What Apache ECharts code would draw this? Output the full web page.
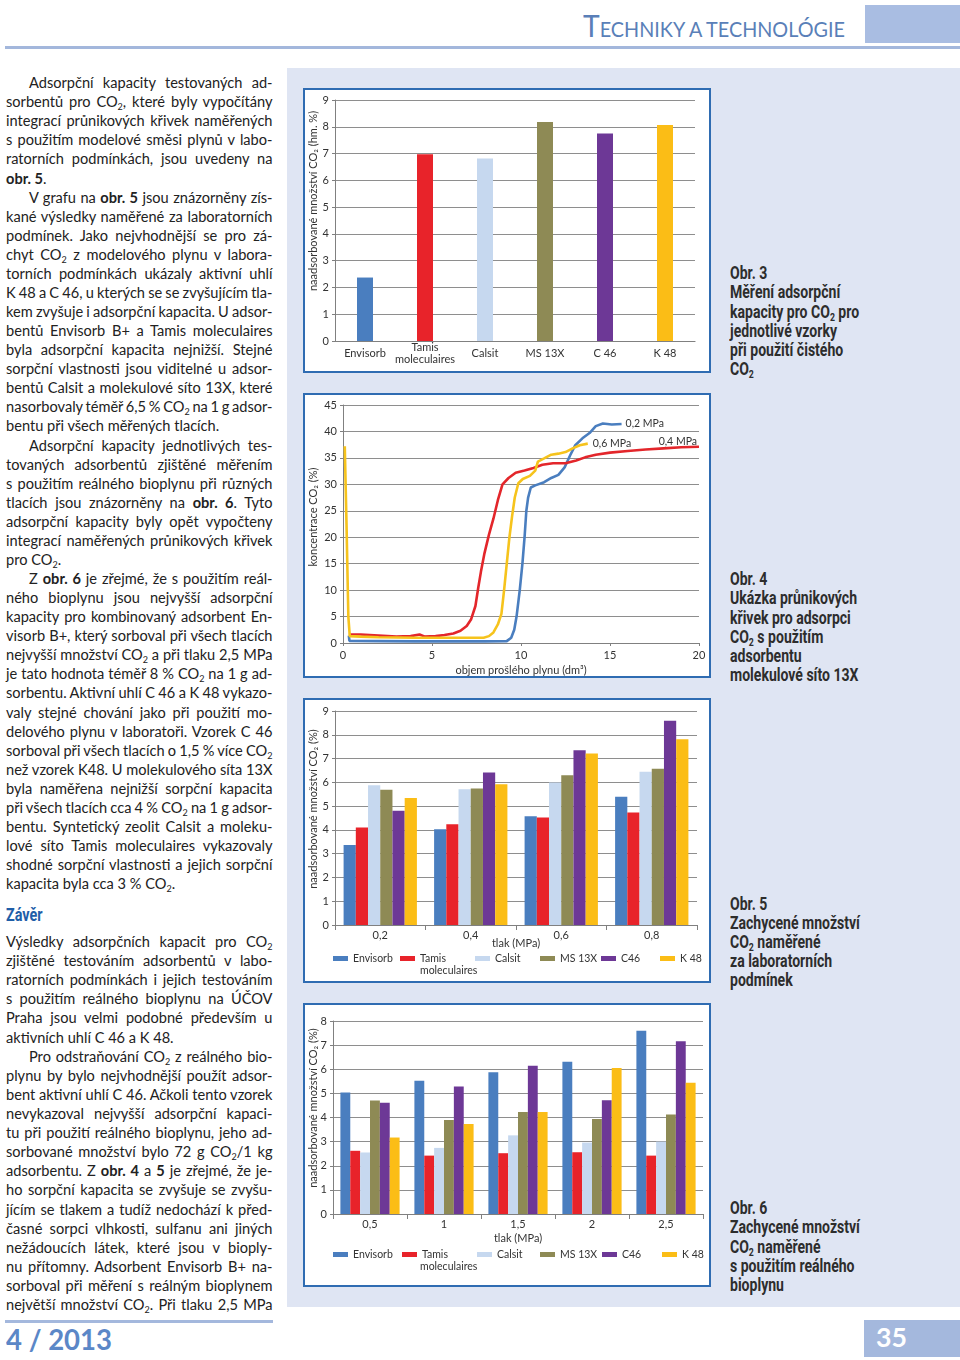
<!DOCTYPE html>
<html><head><meta charset="utf-8">
<script src="https://cdn.jsdelivr.net/npm/echarts@6/dist/echarts.min.js"></script>
<style>
html,body{margin:0;padding:0;background:#fff;}
body{width:960px;height:1360px;position:relative;overflow:hidden;font-family:Lato,'Open Sans',sans-serif;color:#222;}
.ln{position:absolute;white-space:nowrap;font-size:14.6px;line-height:19px;height:19px;}
.ln b{font-weight:700;}
sub{font-size:0.62em;vertical-align:-0.3em;line-height:0;}
.cap{position:absolute;left:730px;white-space:nowrap;font-family:Roboto,sans-serif;font-weight:700;font-size:18px;line-height:19px;color:#2d2d2d;transform-origin:0 50%;transform:scaleX(0.78);}
.box{position:absolute;left:303px;width:404px;border:2px solid #2f6cb2;background:#fff;}
.chart{width:404px;height:281px;}
</style>
</head>
<body>
<div style="position:absolute;left:287px;top:68px;width:673px;height:1239px;background:#dfe5f3;"></div>
<div style="position:absolute;left:865px;top:5px;width:95px;height:38px;background:#a9bde2;"></div>
<div style="position:absolute;left:5px;top:46px;width:955px;height:3px;background:#a3b7dc;"></div>
<div id="hdr" style="position:absolute;left:583px;top:8px;line-height:34px;color:#5a7fb8;white-space:nowrap;"><span style="font-size:30px">T</span><span style="font-size:21px">ECHNIKY A TECHNOLÓGIE</span></div>

<div style="position:absolute;left:5px;top:1320px;width:268px;height:3px;background:#a4b8dd;"></div>
<div id="issue" style="position:absolute;left:6px;top:1324px;line-height:30px;font-size:29px;font-weight:700;color:#5b87c7;white-space:nowrap;">4 / 2013</div>
<div style="position:absolute;left:864px;top:1320px;width:96px;height:37px;background:#a4b8dd;"></div>
<div id="pg" style="position:absolute;left:876px;top:1322px;line-height:30px;font-size:27px;font-weight:700;color:#fff;white-space:nowrap;">35</div>

<div class="cap" style="left:6px;top:905px;color:#1f5ea8;transform:scaleX(0.8);">Závěr</div>

<div class="box" style="top:88px;height:281px;"><div id="c1" class="chart"></div></div>
<div class="box" style="top:393px;height:281px;"><div id="c2" class="chart"></div></div>
<div class="box" style="top:698px;height:281px;"><div id="c3" class="chart"></div></div>
<div class="box" style="top:1003px;height:280px;"><div id="c4" class="chart" style="height:280px"></div></div>

<script>
// ---------------- DATA ----------------
const adsorbents = ['Envisorb', 'Tamis moleculaires', 'Calsit', 'MS 13X', 'C46', 'K 48'];
const barColors = ['#4a7ebf', '#e8232a', '#c6d8ef', '#8e8a55', '#6d3896', '#fbbd16'];

// Obr. 3 – pure CO2
const cats3 = ['Envisorb', 'Tamis\nmoleculaires', 'Calsit', 'MS 13X', 'C 46', 'K 48'];
const vals3 = [2.37, 6.97, 6.82, 8.18, 7.75, 8.07];

// Obr. 4 – breakthrough curves, MS 13X  [volume dm3, CO2 %]
const curve02 = [[0.33,1.4],[0.36,0.4],[2,0.35],[4,0.3],[6,0.3],[8,0.3],[9.2,0.35],[9.45,1],[9.62,2.5],[9.75,5],[9.93,10],[10.08,15],[10.2,20],[10.3,25],[10.4,27.5],[10.55,29.4],[10.8,29.8],[11.3,30.4],[11.7,31.2],[12.1,31.8],[12.45,33.2],[12.75,35.4],[13.05,37.4],[13.45,38.7],[13.85,39.7],[14.2,41],[14.6,41.5],[15.1,41.3],[15.65,41.4]];
const curve04 = [[0.33,1.6],[1,1.6],[2,1.4],[3,1.2],[3.8,1.3],[4.3,1.6],[4.6,1.2],[5.2,1.3],[5.7,1.5],[6.2,1.8],[6.6,2.3],[6.95,3.2],[7.2,4.5],[7.44,7],[7.6,10.5],[7.75,13.5],[7.95,17],[8.2,20.5],[8.45,23.5],[8.7,27],[8.96,30],[9.3,31.2],[9.7,32.2],[10.2,32.6],[10.7,33.1],[11.2,33.7],[11.8,34],[12.5,34],[13.1,34.5],[13.6,35.1],[14.2,35.6],[15,36],[16,36.3],[17,36.6],[18,36.8],[19,37],[20,37.1]];
const curve06 = [[0.1,37.2],[0.2,22],[0.3,5],[0.38,1.3],[1,1.2],[2,1.1],[4,1],[6,1],[7.9,1],[8.2,1.3],[8.45,2],[8.7,3.5],[8.9,5.5],[9.05,10],[9.2,15],[9.35,20],[9.5,24],[9.65,27.5],[9.85,30.2],[10.1,31],[10.5,31.6],[10.8,32.6],[10.95,34.3],[11.3,34.9],[11.7,35.6],[12.1,35.8],[12.5,36.1],[12.9,36.8],[13.3,37.4],[13.75,37.7]];
const curveNames = ['0,2 MPa', '0,4 MPa', '0,6 MPa'];

// Obr. 5 – laboratory conditions
const press5 = ['0,2', '0,4', '0,6', '0,8'];
const envisorb5 = [3.36, 4.03, 4.57, 5.39];
const tamis5    = [4.10, 4.24, 4.52, 4.73];
const calsit5   = [5.88, 5.71, 5.99, 6.44];
const ms13x5    = [5.69, 5.74, 6.30, 6.57];
const c46_5     = [4.80, 6.41, 7.35, 8.59];
const k48_5     = [5.34, 5.92, 7.21, 7.81];

// Obr. 6 – real biogas
const press6 = ['0,5', '1', '1,5', '2', '2,5'];
const envisorb6 = [5.04, 5.52, 5.88, 6.31, 7.60];
const tamis6    = [2.62, 2.42, 2.52, 2.56, 2.42];
const calsit6   = [2.55, 2.74, 3.26, 2.96, 3.00];
const ms13x6    = [4.70, 3.90, 4.23, 3.94, 4.12];
const c46_6     = [4.61, 5.28, 6.14, 4.72, 7.16];
const k48_6     = [3.17, 3.73, 4.23, 6.05, 5.44];

// ---------------- PAGE TEXT ----------------
const textLines = [
 ['ij','Adsorpční kapacity testovaných ad-'],
 ['j','sorbentů pro CO<sub>2</sub>, které byly vypočítány'],
 ['j','integrací průnikových křivek naměřených'],
 ['j','s použitím modelové směsi plynů v labo-'],
 ['j','ratorních podmínkách, jsou uvedeny na'],
 ['l','<b>obr. 5</b>.'],
 ['ij','V grafu na <b>obr. 5</b> jsou znázorněny zís-'],
 ['j','kané výsledky naměřené za laboratorních'],
 ['j','podmínek. Jako nejvhodnější se pro zá-'],
 ['j','chyt CO<sub>2</sub> z modelového plynu v labora-'],
 ['j','torních podmínkách ukázaly aktivní uhlí'],
 ['j','K 48 a C 46, u kterých se se zvyšujícím tla-'],
 ['j','kem zvyšuje i adsorpční kapacita. U adsor-'],
 ['j','bentů Envisorb B+ a Tamis moleculaires'],
 ['j','byla adsorpční kapacita nejnižší. Stejné'],
 ['j','sorpční vlastnosti jsou viditelné u adsor-'],
 ['j','bentů Calsit a molekulové síto 13X, které'],
 ['j','nasorbovaly téměř 6,5 % CO<sub>2</sub> na 1 g adsor-'],
 ['l','bentu při všech měřených tlacích.'],
 ['ij','Adsorpční kapacity jednotlivých tes-'],
 ['j','tovaných adsorbentů zjištěné měřením'],
 ['j','s použitím reálného bioplynu při různých'],
 ['j','tlacích jsou znázorněny na <b>obr. 6</b>. Tyto'],
 ['j','adsorpční kapacity byly opět vypočteny'],
 ['j','integrací naměřených průnikových křivek'],
 ['l','pro CO<sub>2</sub>.'],
 ['ij','Z <b>obr. 6</b> je zřejmé, že s použitím reál-'],
 ['j','ného bioplynu jsou nejvyšší adsorpční'],
 ['j','kapacity pro kombinovaný adsorbent En-'],
 ['j','visorb B+, který sorboval při všech tlacích'],
 ['j','nejvyšší množství CO<sub>2</sub> a při tlaku 2,5 MPa'],
 ['j','je tato hodnota téměř 8 % CO<sub>2</sub> na 1 g ad-'],
 ['j','sorbentu. Aktivní uhlí C 46 a K 48 vykazo-'],
 ['j','valy stejné chování jako při použití mo-'],
 ['j','delového plynu v laboratoři. Vzorek C 46'],
 ['j','sorboval při všech tlacích o 1,5 % více CO<sub>2</sub>'],
 ['j','než vzorek K48. U molekulového síta 13X'],
 ['j','byla naměřena nejnižší sorpční kapacita'],
 ['j','při všech tlacích cca 4 % CO<sub>2</sub> na 1 g adsor-'],
 ['j','bentu. Syntetický zeolit Calsit a moleku-'],
 ['j','lové síto Tamis moleculaires vykazovaly'],
 ['j','shodné sorpční vlastnosti a jejich sorpční'],
 ['l','kapacita byla cca 3 % CO<sub>2</sub>.'],
 ['j','Výsledky adsorpčních kapacit pro CO<sub>2</sub>'],
 ['j','zjištěné testováním adsorbentů v labo-'],
 ['j','ratorních podmínkách i jejich testováním'],
 ['j','s použitím reálného bioplynu na ÚČOV'],
 ['j','Praha jsou velmi podobné především u'],
 ['l','aktivních uhlí C 46 a K 48.'],
 ['ij','Pro odstraňování CO<sub>2</sub> z reálného bio-'],
 ['j','plynu by bylo nejvhodnější použít adsor-'],
 ['j','bent aktivní uhlí C 46. Ačkoli tento vzorek'],
 ['j','nevykazoval nejvyšší adsorpční kapaci-'],
 ['j','tu při použití reálného bioplynu, jeho ad-'],
 ['j','sorbované množství bylo 72 g CO<sub>2</sub>/1 kg'],
 ['j','adsorbentu. Z <b>obr. 4</b> a <b>5</b> je zřejmé, že je-'],
 ['j','ho sorpční kapacita se zvyšuje se zvyšu-'],
 ['j','jícím se tlakem a tudíž nedochází k před-'],
 ['j','časné sorpci vlhkosti, sulfanu ani jiných'],
 ['j','nežádoucích látek, které jsou v bioply-'],
 ['j','nu přítomny. Adsorbent Envisorb B+ na-'],
 ['j','sorboval při měření s reálným bioplynem'],
 ['j','největší množství CO<sub>2</sub>. Při tlaku 2,5 MPa']
];
textLines.forEach((l, k) => {
  const center = k < 43 ? 83 + k * 19.07 : 941.7 + (k - 43) * 19.12;
  const d = document.createElement('div');
  d.className = 'ln';
  const indent = l[0].indexOf('i') >= 0 ? 23 : 0;
  d.style.left = (6 + indent) + 'px';
  d.style.top = (center - 9.8) + 'px';
  d.innerHTML = l[1];
  document.body.appendChild(d);
  if (l[0].indexOf('j') >= 0) {
    const target = 266.5 - indent;
    const txt = d.textContent;
    const n = (txt.match(/ /g) || []).length;
    let w = d.getBoundingClientRect().width;
    if (n > 0 && (target - w) / n < -1.2) {
      d.style.letterSpacing = ((target - w + 1.2 * n) / txt.length) + 'px';
      w = d.getBoundingClientRect().width;
    }
    if (n > 0) d.style.wordSpacing = ((target - w) / n) + 'px';
  }
});

const captions = [
  [263.4, ['Obr. 3','Měření adsorpční','kapacity pro CO<sub>2</sub> pro','jednotlivé vzorky','při použití čistého','CO<sub>2</sub>']],
  [569.4, ['Obr. 4','Ukázka průnikových','křivek pro adsorpci','CO<sub>2</sub> s použitím','adsorbentu','molekulové síto 13X']],
  [893.7, ['Obr. 5','Zachycené množství','CO<sub>2</sub> naměřené','za laboratorních','podmínek']],
  [1198.4, ['Obr. 6','Zachycené množství','CO<sub>2</sub> naměřené','s použitím reálného','bioplynu']]
];
captions.forEach(c => {
  c[1].forEach((t, i) => {
    const d = document.createElement('div');
    d.className = 'cap';
    d.style.top = (c[0] + i * 19.07) + 'px';
    d.innerHTML = t;
    document.body.appendChild(d);
  });
});

function fitW(id, w) {
  const el = document.getElementById(id);
  const r = el.getBoundingClientRect().width;
  el.style.transformOrigin = '0 0';
  el.style.transform = 'scaleX(' + (w / r) + ')';
}
fitW('hdr', 262);
fitW('issue', 106);
fitW('pg', 31);

// ---------------- CHARTS ----------------
const FONT = 'Lato';
const TXT = '#333';
const AX = '#808080';
const GRID = '#8e8e8e';

function valueAxis(min, max, interval, extra) {
  return Object.assign({
    type: 'value', min: min, max: max, interval: interval,
    nameMoveOverlap: false,
    axisLine: { show: true, lineStyle: { color: AX, width: 1 } },
    axisTick: { show: true, length: 3, lineStyle: { color: AX } },
    axisLabel: { color: TXT, fontSize: 11, fontFamily: FONT, margin: 6 },
    splitLine: { show: true, lineStyle: { color: GRID, width: 1.2 } }
  }, extra || {});
}
function yName(text, x, y) {
  return { type: 'text', x: x, y: y, rotation: Math.PI / 2,
    style: { text: text, fill: TXT, fontSize: 11, fontFamily: FONT, align: 'center', verticalAlign: 'middle' } };
}

// Chart 1
echarts.init(document.getElementById('c1'), null, { renderer: 'canvas' }).setOption({
  animation: false,
  textStyle: { fontFamily: FONT },
  grid: { left: 30, top: 10, width: 360, height: 241, outerBoundsMode: 'none', containLabel: false },
  xAxis: { type: 'category', data: cats3,
    axisLine: { lineStyle: { color: AX, width: 1.2 } }, axisTick: { show: false },
    axisLabel: { color: TXT, fontSize: 11, fontFamily: FONT, margin: 12, lineHeight: 12, interval: 0, verticalAlign: 'middle' } },
  yAxis: valueAxis(0, 9, 1),
  series: [{ type: 'bar', barWidth: 16,
    data: vals3.map((v, i) => ({ value: v, itemStyle: { color: barColors[i] } })) }],
  graphic: [yName('naadsorbované množství CO₂ (hm. %)', 8, 111)]
});

// Chart 2
const lineColors = ['#4a7ebf', '#e3262b', '#f6c31c'];
const curves = [curve02, curve04, curve06];
const endLab = [
  { distance: 4, verticalAlign: 'middle' },
  { distance: -2, align: 'right', verticalAlign: 'bottom' },
  { distance: 5, verticalAlign: 'middle' }
];
echarts.init(document.getElementById('c2')).setOption({
  animation: false,
  textStyle: { fontFamily: FONT },
  grid: { left: 38, top: 10, width: 356, height: 238, outerBoundsMode: 'none', containLabel: false },
  xAxis: valueAxis(0, 20, 5, {
    splitLine: { show: false },
    axisLabel: { color: TXT, fontSize: 11, fontFamily: FONT, margin: 7 },
    name: 'objem prošlého plynu (dm³)', nameLocation: 'middle', nameGap: 22,
    nameTextStyle: { color: TXT, fontSize: 11, fontFamily: FONT } }),
  yAxis: valueAxis(0, 45, 5),
  series: curves.map((c, i) => ({
    name: curveNames[i], type: 'line', data: c, showSymbol: false, smooth: false,
    lineStyle: { color: lineColors[i], width: 2.6 }, itemStyle: { color: lineColors[i] },
    endLabel: Object.assign({ show: true, formatter: curveNames[i], color: TXT, fontSize: 10.5, fontFamily: FONT }, endLab[i])
  })),
  graphic: [yName('koncentrace CO₂ (%)', 8, 122)]
});

function groupedOption(cats, dataArrs, yMax, grid, lefts, legTop, molPos, yNamePos, gap, nameGap) {
  return {
    animation: false,
    textStyle: { fontFamily: FONT },
    grid: Object.assign({ outerBoundsMode: 'none', containLabel: false }, grid),
    legend: adsorbents.map((n, i) => ({
      data: [n], left: lefts[i], top: legTop, padding: 0, itemWidth: 15, itemHeight: 5,
      icon: 'rect', selectedMode: false,
      textStyle: { color: TXT, fontSize: 10.5, fontFamily: FONT },
      formatter: nm => nm === 'Tamis moleculaires' ? 'Tamis' : nm
    })),
    xAxis: { type: 'category', data: cats,
      nameMoveOverlap: false,
      axisLine: { lineStyle: { color: AX, width: 1.2 } },
      axisTick: { show: true, length: 5, lineStyle: { color: AX } },
      axisLabel: { color: TXT, fontSize: 11, fontFamily: FONT, margin: 5 },
      name: 'tlak (MPa)', nameLocation: 'middle', nameGap: nameGap,
      nameTextStyle: { color: TXT, fontSize: 11, fontFamily: FONT } },
    yAxis: valueAxis(0, yMax, 1),
    series: adsorbents.map((n, i) => ({
      name: n, type: 'bar', data: dataArrs[i], itemStyle: { color: barColors[i] },
      barGap: '0%', barCategoryGap: gap
    })),
    graphic: [
      yName('naadsorbované množství CO₂ (%)', yNamePos[0], yNamePos[1]),
      { type: 'text', x: molPos[0], y: molPos[1],
        style: { text: 'moleculaires', fill: TXT, fontSize: 10.5, fontFamily: FONT, align: 'left', verticalAlign: 'middle' } }
    ]
  };
}

echarts.init(document.getElementById('c3')).setOption(groupedOption(
  press5, [envisorb5, tamis5, calsit5, ms13x5, c46_5, k48_5], 9,
  { left: 30, top: 11, width: 362, height: 214 },
  [28, 95, 170, 235, 296, 355], 253, [115, 271], [8, 109], '19%', 13));

echarts.init(document.getElementById('c4')).setOption(groupedOption(
  press6, [envisorb6, tamis6, calsit6, ms13x6, c46_6, k48_6], 8,
  { left: 28, top: 16, width: 370, height: 193 },
  [28, 97, 172, 235, 297, 357], 244, [115, 262], [8, 103], '20%', 19));
</script>
</body></html>
